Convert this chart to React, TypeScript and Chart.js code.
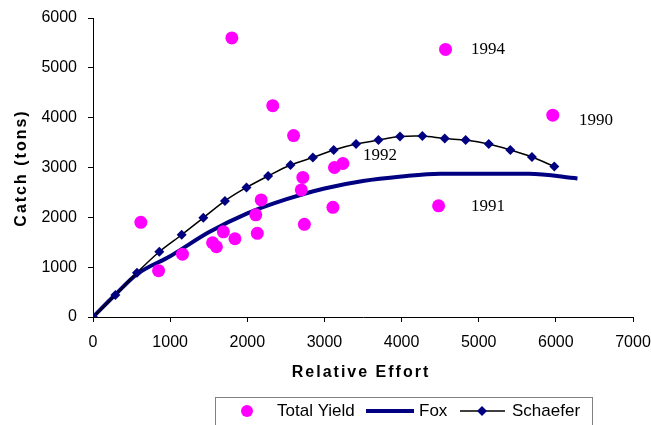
import React, { useEffect, useRef } from "react";
import { Chart, registerables } from "chart.js";

Chart.register(...registerables);

const yieldEffort = [620, 850, 1160, 1550, 1600, 1690, 1800, 1840, 2110, 2130, 2180, 2330, 2600, 2700, 2720, 2740, 3110, 3130, 3240, 4480, 4570, 5960];
const yieldCatch = [1900, 930, 1260, 1490, 1410, 1710, 5600, 1570, 2050, 1680, 2350, 4240, 3640, 2550, 2800, 1860, 2200, 3000, 3080, 2230, 5370, 4050];

const schaeferEffort = [0, 290, 570, 860, 1150, 1430, 1710, 1990, 2270, 2560, 2850, 3120, 3410, 3700, 3980, 4270, 4560, 4830, 5130, 5410, 5690, 5980];
const schaeferCatch = [0, 440, 890, 1310, 1650, 1990, 2330, 2600, 2830, 3050, 3200, 3350, 3470, 3550, 3620, 3630, 3580, 3550, 3470, 3350, 3210, 3020];

const foxEffort = [0, 285, 570, 1000, 1500, 2000, 2500, 3000, 3500, 4000, 4500, 5000, 5650, 6280];
const foxCatch = [0, 441, 860, 1220, 1700, 2080, 2360, 2580, 2730, 2820, 2875, 2875, 2875, 2780];

const yearLabels = ["1994", "1990", "1992", "1991"];
const yearLabelEffort = [4900, 6300, 3500, 4900];
const yearLabelCatch = [5360, 3950, 3250, 2210];

const xTitle = "Relative Effort";
const yTitle = "Catch (tons)";
const legendNames = ["Total Yield", "Fox", "Schaefer"];

const MAGENTA = "#FF00FF";
const NAVY = "#000080";

const overlayPlugin = {
  id: "overlay",
  afterDraw(chart: any) {
    const ctx = chart.ctx as CanvasRenderingContext2D;
    const xs = chart.scales.x;
    const ys = chart.scales.y;
    ctx.save();
    ctx.fillStyle = "#000";
    ctx.font = "17px 'Liberation Serif', 'Times New Roman', serif";
    ctx.textAlign = "left";
    ctx.textBaseline = "middle";
    yearLabels.forEach((t, i) => {
      ctx.fillText(t, xs.getPixelForValue(yearLabelEffort[i]), ys.getPixelForValue(yearLabelCatch[i]));
    });
    ctx.font = "bold 16px 'Liberation Sans', Arial, sans-serif";
    (ctx as any).letterSpacing = "2px";
    ctx.textAlign = "center";
    ctx.fillText(xTitle, 361, 373);
    ctx.save();
    ctx.translate(22, 168);
    ctx.rotate(-Math.PI / 2);
    ctx.fillText(yTitle, 0, 0);
    ctx.restore();
    (ctx as any).letterSpacing = "0px";
    ctx.strokeStyle = "#808080";
    ctx.lineWidth = 1;
    ctx.strokeRect(215.5, 397.5, 377, 40);
    const ly = 411;
    ctx.fillStyle = MAGENTA;
    ctx.beginPath();
    ctx.arc(247, ly, 6, 0, Math.PI * 2);
    ctx.fill();
    ctx.fillStyle = "#000";
    ctx.font = "17px 'Liberation Sans', Arial, sans-serif";
    ctx.textAlign = "left";
    ctx.textBaseline = "middle";
    ctx.fillText(legendNames[0], 277, ly);
    ctx.strokeStyle = NAVY;
    ctx.lineWidth = 4;
    ctx.beginPath();
    ctx.moveTo(366, ly);
    ctx.lineTo(414, ly);
    ctx.stroke();
    ctx.fillText(legendNames[1], 419, ly);
    ctx.strokeStyle = "#000";
    ctx.lineWidth = 1.5;
    ctx.beginPath();
    ctx.moveTo(460, ly);
    ctx.lineTo(505, ly);
    ctx.stroke();
    ctx.fillStyle = NAVY;
    ctx.beginPath();
    ctx.moveTo(482, ly - 5);
    ctx.lineTo(487, ly);
    ctx.lineTo(482, ly + 5);
    ctx.lineTo(477, ly);
    ctx.closePath();
    ctx.fill();
    ctx.fillStyle = "#000";
    ctx.fillText(legendNames[2], 512, ly);
    ctx.restore();
  },
};

export default function App() {
  const ref = useRef<HTMLCanvasElement | null>(null);
  useEffect(() => {
    if (!ref.current) return;
    const tickFont = { family: "'Liberation Sans', Arial, sans-serif", size: 16 };
    const fmt = (v: any) => String(v);
    const chart = new Chart(ref.current, {
      type: "scatter",
      data: {
        datasets: [
          {
            label: legendNames[0],
            data: yieldEffort.map((x, i) => ({ x, y: yieldCatch[i] })),
            backgroundColor: MAGENTA,
            borderColor: MAGENTA,
            pointRadius: 6.5,
            pointBorderWidth: 0,
            showLine: false,
            order: 0,
          },
          {
            label: legendNames[2],
            data: schaeferEffort.map((x, i) => ({ x, y: schaeferCatch[i] })),
            showLine: true,
            borderColor: "#000",
            borderWidth: 1.5,
            tension: 0.3,
            pointStyle: "rectRot",
            pointRadius: 5,
            pointBackgroundColor: NAVY,
            pointBorderColor: NAVY,
            pointBorderWidth: 0,
            order: 1,
          },
          {
            label: legendNames[1],
            data: foxEffort.map((x, i) => ({ x, y: foxCatch[i] })),
            showLine: true,
            borderColor: NAVY,
            borderWidth: 4,
            cubicInterpolationMode: "monotone",
            pointRadius: 0,
            order: 2,
          },
        ],
      },
      options: {
        animation: false,
        responsive: false,
        maintainAspectRatio: false,
        layout: { padding: { left: 0, right: 18, top: 18, bottom: 0 } },
        plugins: { legend: { display: false }, tooltip: { enabled: false } },
        scales: {
          x: {
            type: "linear",
            min: 0,
            max: 7000,
            ticks: { stepSize: 1000, color: "#000", font: tickFont, padding: 11, maxRotation: 0, callback: fmt },
            grid: { drawOnChartArea: false, drawTicks: true, tickLength: 5, color: "#000" },
            border: { display: true, color: "#000", width: 1 },
            afterFit: (s: any) => {
              s.height = 108;
              s.paddingLeft = 0;
              s.paddingRight = 0;
            },
          },
          y: {
            type: "linear",
            min: 0,
            max: 6000,
            ticks: { stepSize: 1000, color: "#000", font: tickFont, padding: 11, callback: fmt },
            grid: { drawOnChartArea: false, drawTicks: true, tickLength: 5, color: "#000" },
            border: { display: true, color: "#000", width: 1 },
            afterFit: (s: any) => {
              s.width = 93;
              s.paddingTop = 0;
              s.paddingBottom = 0;
            },
          },
        },
      },
      plugins: [overlayPlugin],
    } as any);
    return () => chart.destroy();
  }, []);
  return (
    <div style={{ position: "fixed", left: 0, top: 0, width: 651, height: 425, background: "#fff" }}>
      <canvas ref={ref} width={651} height={425} style={{ width: 651, height: 425, display: "block" }} />
    </div>
  );
}
